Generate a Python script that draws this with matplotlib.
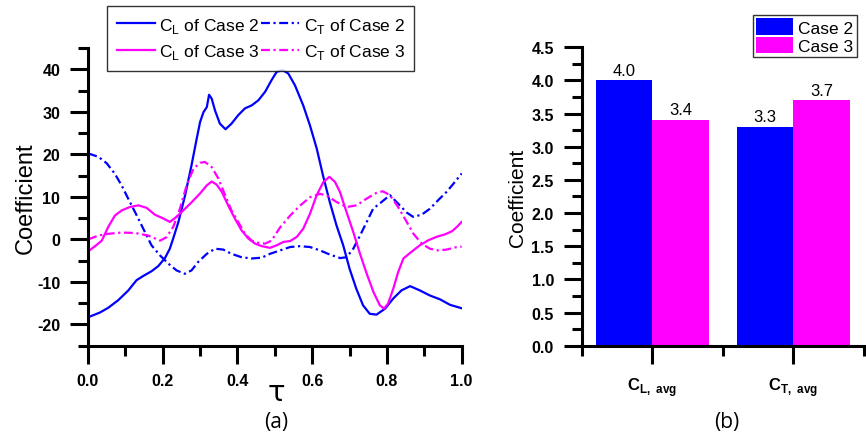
import matplotlib
matplotlib.use("Agg")
import matplotlib.pyplot as plt
from matplotlib.ticker import MultipleLocator, FixedLocator

plt.rcParams['font.family'] = ['Liberation Sans', 'DejaVu Sans']
plt.rcParams['mathtext.fontset'] = 'custom'
plt.rcParams['mathtext.rm'] = 'Liberation Sans'
plt.rcParams['mathtext.bf'] = 'Liberation Sans:bold'
plt.rcParams['axes.unicode_minus'] = False

BLUE = '#0000ff'
MAGENTA = '#ff00ff'

# (a) time histories
tau_cl2 = [0.001, 0.032, 0.054, 0.081, 0.108, 0.130, 0.148, 0.170, 0.188, 0.206, 0.219, 0.228,
           0.242, 0.260, 0.277, 0.291, 0.300, 0.309, 0.318, 0.324, 0.331, 0.340, 0.353, 0.368,
           0.384, 0.402, 0.420, 0.438, 0.456, 0.474, 0.491, 0.505, 0.521, 0.536, 0.554, 0.576,
           0.594, 0.612, 0.629, 0.647, 0.665, 0.683, 0.700, 0.718, 0.736, 0.754, 0.772, 0.795,
           0.817, 0.839, 0.862, 0.888, 0.915, 0.942, 0.969, 1.0]
cl_case2 = [-18.3, -17.2, -16.1, -14.3, -12.0, -9.6, -8.6, -7.5, -6.3, -4.4, -2.2, 0.2,
            4.1, 10.4, 17.4, 23.7, 27.6, 29.9, 31.1, 34.0, 33.1, 30.3, 27.2, 25.9,
            27.2, 29.2, 30.8, 31.5, 32.7, 34.7, 37.4, 39.4, 39.8, 39.0, 36.2, 31.5,
            26.8, 21.4, 15.0, 8.8, 3.3, -1.4, -6.9, -11.6, -15.5, -17.5, -17.7, -16.3,
            -13.9, -12.0, -11.0, -12.0, -13.2, -14.1, -15.4, -16.2]

tau_ct2 = [0.001, 0.028, 0.050, 0.072, 0.090, 0.108, 0.126, 0.148, 0.170, 0.193, 0.215, 0.237,
           0.259, 0.277, 0.295, 0.318, 0.340, 0.362, 0.384, 0.411, 0.438, 0.465, 0.487, 0.514,
           0.541, 0.567, 0.594, 0.621, 0.648, 0.675, 0.692, 0.710, 0.728, 0.746, 0.763, 0.786,
           0.808, 0.830, 0.853, 0.870, 0.893, 0.915, 0.937, 0.960, 0.982, 1.0]
ct_case2 = [20.2, 19.4, 17.9, 15.4, 12.7, 9.5, 6.4, 2.5, -1.4, -3.8, -5.7, -7.3,
            -8.1, -7.3, -5.3, -3.4, -2.2, -2.4, -3.4, -4.2, -4.5, -4.3, -3.4, -2.6,
            -1.8, -1.6, -1.8, -2.6, -3.6, -4.4, -4.2, -2.2, 0.9, 4.1, 7.2, 8.8,
            10.4, 8.4, 6.3, 5.3, 5.8, 7.2, 9.2, 11.2, 13.5, 15.5]

tau_cl3 = [0.001, 0.019, 0.037, 0.054, 0.072, 0.090, 0.112, 0.135, 0.157, 0.179, 0.202, 0.219,
           0.237, 0.255, 0.277, 0.300, 0.318, 0.331, 0.344, 0.358, 0.375, 0.393, 0.411, 0.429,
           0.447, 0.465, 0.487, 0.505, 0.523, 0.541, 0.559, 0.576, 0.594, 0.612, 0.630, 0.646,
           0.661, 0.674, 0.692, 0.710, 0.728, 0.746, 0.764, 0.781, 0.792, 0.803, 0.817, 0.830,
           0.844, 0.866, 0.888, 0.911, 0.933, 0.956, 0.974, 0.987, 1.0]
cl_case3 = [-2.8, -1.6, -0.3, 2.9, 5.6, 6.8, 7.6, 8.0, 7.4, 5.8, 4.9, 4.1,
            5.3, 6.8, 8.7, 10.8, 12.7, 13.6, 12.9, 11.2, 8.0, 4.9, 2.1, 0.2,
            -1.0, -1.6, -2.0, -1.4, -0.6, -0.4, 0.6, 2.5, 6.0, 10.4, 13.5, 14.7,
            13.5, 11.2, 6.4, 1.7, -3.4, -8.1, -12.4, -15.5, -16.3, -15.1, -11.6, -7.7,
            -4.5, -2.9, -1.4, -0.2, 0.6, 1.2, 1.9, 2.9, 4.1]

tau_ct3 = [0.001, 0.028, 0.054, 0.090, 0.126, 0.161, 0.193, 0.210, 0.228, 0.246, 0.264, 0.282,
           0.300, 0.313, 0.331, 0.349, 0.367, 0.384, 0.402, 0.420, 0.438, 0.456, 0.474, 0.491,
           0.514, 0.541, 0.567, 0.594, 0.621, 0.639, 0.665, 0.692, 0.719, 0.746, 0.773, 0.789,
           0.808, 0.830, 0.853, 0.871, 0.893, 0.915, 0.937, 0.960, 0.982, 1.0]
ct_case3 = [0.0, 0.9, 1.3, 1.6, 1.5, 0.9, -0.3, 0.5, 2.9, 7.2, 12.7, 16.6,
            18.0, 18.2, 17.0, 14.3, 10.4, 6.8, 4.1, 1.3, -0.3, -0.8, -1.0, -0.3,
            2.8, 5.6, 7.9, 9.9, 10.7, 10.3, 8.8, 7.6, 8.0, 9.6, 11.0, 11.3,
            10.4, 7.6, 4.1, 1.3, -1.0, -2.2, -2.6, -2.4, -1.9, -1.7]

# (b) averages
bar_cats = [r'$\mathbf{C}_{\mathbf{L,\ avg}}$', r'$\mathbf{C}_{\mathbf{T,\ avg}}$']
avg_case2 = [4.0, 3.3]
avg_case3 = [3.4, 3.7]


def style_axes(ax):
    for side in ('top', 'right'):
        ax.spines[side].set_visible(False)
    for side in ('left', 'bottom'):
        ax.spines[side].set_linewidth(2.2)
    ax.tick_params(which='major', direction='out', length=13, width=2.2, labelsize=11.5, pad=7)
    ax.tick_params(which='minor', direction='out', length=7, width=2.2)
    for lab in ax.get_xticklabels() + ax.get_yticklabels():
        lab.set_fontweight('bold')


fig = plt.figure(figsize=(8.66, 4.39), dpi=100)

# ---- (a)
ax1 = fig.add_axes([0.1016, 0.2103, 0.4315, 0.6781])
dash_dot = (4, 1.6, 1, 1.6)
l_cl2, = ax1.plot(tau_cl2, cl_case2, color=BLUE, lw=1.6, label=r'C$_\mathregular{L}$ of Case 2')
l_ct2, = ax1.plot(tau_ct2, ct_case2, color=BLUE, lw=1.6, dashes=dash_dot, label=r'C$_\mathregular{T}$ of Case 2')
l_cl3, = ax1.plot(tau_cl3, cl_case3, color=MAGENTA, lw=1.6, label=r'C$_\mathregular{L}$ of Case 3')
l_ct3, = ax1.plot(tau_ct3, ct_case3, color=MAGENTA, lw=1.6, dashes=dash_dot, label=r'C$_\mathregular{T}$ of Case 3')
ax1.set_xlim(0, 1)
ax1.set_ylim(-25, 45)
ax1.xaxis.set_major_locator(MultipleLocator(0.2))
ax1.xaxis.set_minor_locator(MultipleLocator(0.1))
ax1.yaxis.set_major_locator(FixedLocator([-20, -10, 0, 10, 20, 30, 40]))
ax1.yaxis.set_minor_locator(MultipleLocator(5))
ax1.xaxis.set_major_formatter(plt.FormatStrFormatter('%.1f'))
style_axes(ax1)
ax1.set_ylabel('Coefficient', fontsize=17)
ax1.yaxis.set_label_coords(-0.137, 0.5)
fig.text(276 / 866, 1 - 393 / 439, 'τ', fontsize=21, family='DejaVu Sans', ha='center', va='center')
fig.text(276 / 866, 1 - 423 / 439, '(a)', fontsize=15, family='Open Sans', ha='center', va='center')

# column-wise fill: row 1 = Case 2, row 2 = Case 3
handles = [l_cl2, l_cl3, l_ct2, l_ct3]
leg1 = ax1.legend(handles, [h.get_label() for h in handles],
                  loc='upper left', bbox_to_anchor=(107 / 866, 1 - 7 / 439), bbox_transform=fig.transFigure,
                  ncol=2, fontsize=12.5, frameon=True, fancybox=False, handlelength=2.2,
                  handletextpad=0.25, columnspacing=0.1, labelspacing=0.45, borderpad=0.55,
                  borderaxespad=0)
leg1.get_frame().set_edgecolor('black')
leg1.get_frame().set_linewidth(1.0)

# ---- (b)
ax2 = fig.add_axes([0.6717, 0.2103, 0.3256, 0.6797])
pos = [1, 2]
w = 0.4
b2 = ax2.bar([p - w / 2 for p in pos], avg_case2, width=w, color=BLUE, label='Case 2')
b3 = ax2.bar([p + w / 2 for p in pos], avg_case3, width=w, color=MAGENTA, label='Case 3')
ax2.bar_label(b2, fmt='%.1f', padding=2, fontsize=12)
ax2.bar_label(b3, fmt='%.1f', padding=2, fontsize=12)
ax2.set_xlim(0.5, 2.5)
ax2.set_ylim(0, 4.5)
ax2.set_xticks(pos)
ax2.set_xticklabels(bar_cats)
ax2.xaxis.set_minor_locator(FixedLocator([0.5, 1.5, 2.5]))
ax2.yaxis.set_major_locator(MultipleLocator(0.5))
ax2.yaxis.set_minor_locator(MultipleLocator(0.25))
ax2.yaxis.set_major_formatter(plt.FormatStrFormatter('%.1f'))
style_axes(ax2)
ax2.tick_params(axis='x', which='major', labelsize=12, pad=8)
ax2.set_ylabel('Coefficient', fontsize=15)
ax2.yaxis.set_label_coords(-0.193, 0.5)
fig.text(727 / 866, 1 - 423 / 439, '(b)', fontsize=15, family='Open Sans', ha='center', va='center')

leg2 = ax2.legend(loc='upper left', bbox_to_anchor=(753 / 866, 1 - 16 / 439), bbox_transform=fig.transFigure,
                  fontsize=12.5, frameon=True, fancybox=False, handlelength=2.1, handleheight=1.1,
                  handletextpad=0.3, labelspacing=0.05, borderpad=0.2, borderaxespad=0)
leg2.get_frame().set_edgecolor('black')
leg2.get_frame().set_linewidth(1.0)

fig.savefig('out.png', dpi=100)
